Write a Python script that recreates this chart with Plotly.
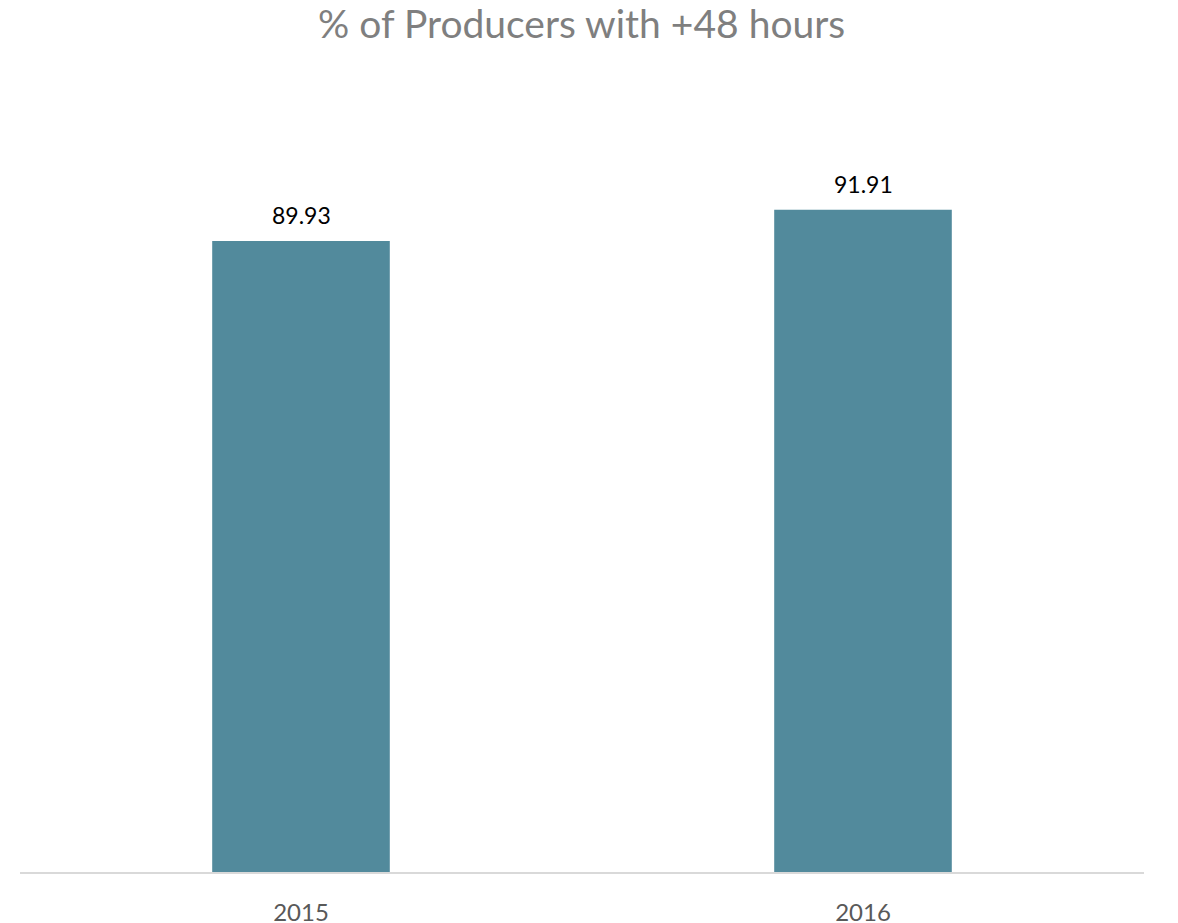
import plotly.graph_objects as go

years = ["2015", "2016"]
values = [89.93, 91.91]
title_text = "% of Producers with +48 hours"

bar_color = "#528A9C"

fig = go.Figure()
fig.add_trace(go.Bar(x=years, y=values, marker=dict(color=bar_color, line=dict(width=0)),
                     hoverinfo="x+y"))

for i, v in enumerate(values):
    fig.add_annotation(x=i, y=v, text=f"{v:.2f}", showarrow=False, yanchor="bottom",
                       yshift=10, font=dict(family="Lato, Open Sans, sans-serif", size=23, color="#000000"))

fig.update_layout(
    width=1178, height=923,
    margin=dict(l=12, r=42, t=74, b=59, autoexpand=False),
    paper_bgcolor="white", plot_bgcolor="white",
    bargap=0.684,
    showlegend=False,
    title=dict(text=title_text, x=0.487, xanchor="center", y=0.982, yanchor="middle",
               font=dict(family="Lato, Open Sans, sans-serif", size=39, color="#7F7F7F")),
    xaxis=dict(type="category", range=[-0.5, len(years) - 0.5], showline=True, linecolor="#D9D9D9",
               linewidth=2, showgrid=False, automargin=False,
               ticks="outside", ticklen=18, tickcolor="rgba(0,0,0,0)",
               tickfont=dict(family="Lato, Open Sans, sans-serif", size=24, color="#595959")),
    yaxis=dict(range=[50, 100], visible=False, showgrid=False, zeroline=False, automargin=False),
)

fig.write_html("out.html")
